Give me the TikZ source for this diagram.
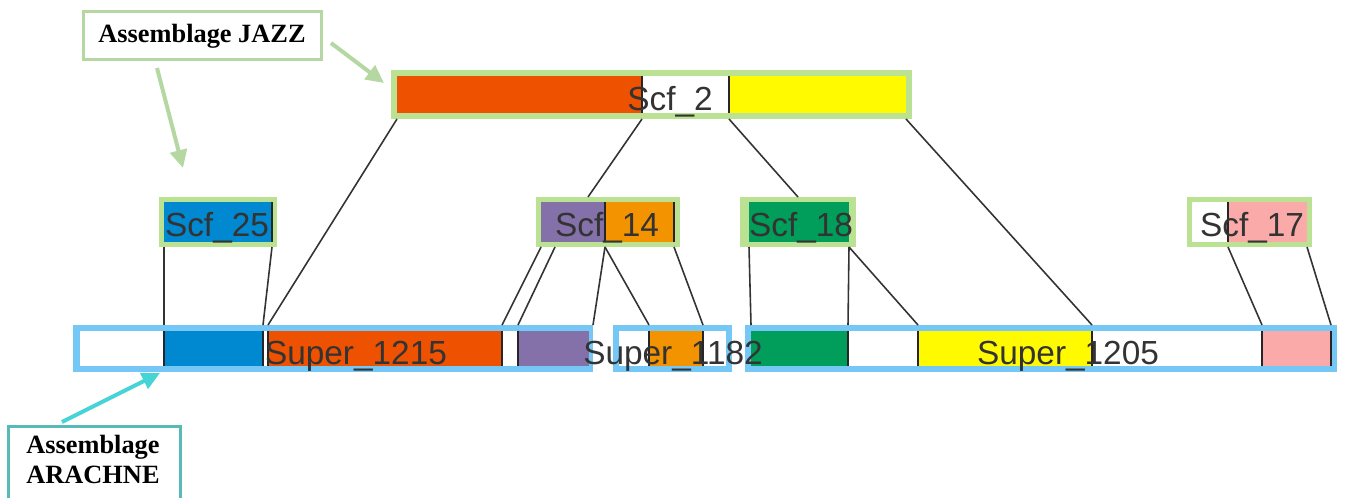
\documentclass[tikz,border=0pt]{standalone}
\usepackage{fontspec}
\usepackage{tikz}
\usetikzlibrary{fit,arrows.meta}
\usepackage{xcolor}

\newfontfamily\etiqfont{Liberation Sans}
\newfontfamily\rotfont{Liberation Serif}

% Colores
\definecolor{verdej}{RGB}{187,226,146}
\definecolor{verdel}{RGB}{181,216,163}
\definecolor{azulm}{RGB}{117,200,245}
\definecolor{turq}{RGB}{88,186,182}
\definecolor{cian}{RGB}{70,212,214}
\definecolor{naranja}{RGB}{238,82,0}
\definecolor{naranjab}{RGB}{244,147,0}
\definecolor{amarillo}{RGB}{255,250,0}
\definecolor{azul}{RGB}{0,136,208}
\definecolor{morado}{RGB}{132,113,170}
\definecolor{verde}{RGB}{0,158,90}
\definecolor{rosa}{RGB}{250,170,168}
\definecolor{oscuro}{RGB}{51,51,51}

\begin{document}
\begin{tikzpicture}[x=0.02cm, y=-0.02cm,
    marco/.style={inner sep=0pt, outer sep=0pt},
    seg/.style={inner sep=0pt, outer sep=0pt},
    sep/.style={draw=black!85, line width=1.1pt},
    enlace/.style={draw=oscuro, line width=0.9pt},
    etiq/.style={font={\etiqfont\fontsize{19}{22}\selectfont}, text=oscuro, anchor=base, inner sep=0pt},
    rot/.style={font={\rotfont\bfseries\fontsize{15}{17}\selectfont}, anchor=base, inner sep=0pt},
    caja/.style={inner sep=0pt, outer sep=0pt, line width=0.06cm, fill=white},
    flecha/.style={line width=0.08cm, -{Triangle[length=0.36cm, width=0.34cm]}}]

    % Limites de la figura
    \useasboundingbox (0,0) rectangle (1348,497);

    % Marcos: Scf (JAZZ) en verde, Super (ARACHNE) en azul
    \foreach \n/\xa/\ya/\xb/\yb/\c in {scf2/391/70/912/119/verdej,
        scf25/159/197/277/247/verdej, scf14/536/197/680/247/verdej,
        scf18/740/197/856/247/verdej, scf17/1187/197/1312/247/verdej,
        s15/73/325/593/372/azulm, s82/613/325/732/372/azulm,
        s05/745/325/1337/372/azulm}
        \node[marco, fill=\c, fit={(\xa,\ya) (\xb,\yb)}] (\n) {};

    % Segmentos de Scf_2
    \foreach \n/\a/\b/\c in {scf2a/397/642/naranja, scf2b/642/729/white, scf2c/729/906/amarillo}
        \node[seg, fill=\c, fit={(\a,76) (\b,113)}] (\n) {};

    % Segmentos de la fila media
    \foreach \n/\a/\b/\c in {scf25a/164/272/azul, scf14a/541/605/morado,
        scf14b/605/674/naranjab, scf18a/749/849/verde,
        scf17a/1192/1228/white, scf17b/1228/1307/rosa}
        \node[seg, fill=\c, fit={(\a,202) (\b,242)}] (\n) {};

    % Segmentos de los Super
    \foreach \n/\a/\b/\c in {s15a/80/164/white, s15b/164/263/azul, s15c/263/268/white,
        s15d/268/502/naranja, s15e/502/518/white, s15f/518/589/morado,
        s82a/619/649/white, s82b/649/703/naranjab, s82c/703/726/white,
        s05a/751/848/verde, s05b/848/918/white, s05c/918/1092/amarillo,
        s05d/1092/1262/white, s05e/1262/1331/rosa}
        \node[seg, fill=\c, fit={(\a,331) (\b,366)}] (\n) {};

    % Separadores negros
    \foreach \s in {scf2a,scf2b,scf25a,scf14a,scf14b,scf17a,
        s15a,s15b,s15c,s15d,s15e,s82a,s82b,s05a,s05b,s05c,s05d,s05e}
        \draw[sep] (\s.north east) -- (\s.south east);

    % Puntos libres
    \coordinate (j14) at (588,197);
    \coordinate (k14) at (555,247);

    % Correspondencias entre contigs
    \draw[enlace] (scf2a.south west |- scf2.south) -- (s15d.north west |- s15.north);
    \draw[enlace] (scf2a.south east |- scf2.south) -- (j14);
    \draw[enlace] (scf2b.south east |- scf2.south) -- (scf18.north);
    \draw[enlace] (scf2c.south east |- scf2.south) -- (s05c.north east |- s05.north);
    \draw[enlace] (scf25a.south west |- scf25.south) -- (s15b.north west |- s15.north);
    \draw[enlace] (scf25a.south east |- scf25.south) -- (s15c.north west |- s15.north);
    \draw[enlace] (scf14a.south west |- scf14.south) -- (s15e.north west |- s15.north);
    \draw[enlace] (k14) -- (s15f.north west |- s15.north);
    \draw[enlace] (scf14a.south east |- scf14.south) -- (s15.north east);
    \draw[enlace] (scf14b.south west |- scf14.south) -- (s82b.north west |- s82.north);
    \draw[enlace] (scf14b.south east |- scf14.south) -- (s82b.north east |- s82.north);
    \draw[enlace] (scf18a.south west |- scf18.south) -- (s05a.north west |- s05.north);
    \draw[enlace] (scf18a.south east |- scf18.south) -- (s05a.north east |- s05.north);
    \draw[enlace] (scf18a.south east |- scf18.south) -- (s05b.north east |- s05.north);
    \draw[enlace] (scf17b.south west |- scf17.south) -- (s05e.north west |- s05.north);
    \draw[enlace] (scf17b.south east |- scf17.south) -- (s05e.north east |- s05.north);

    % Nombres
    \node[etiq] (t2) at (670,110) {Scf\_2};
    \node[etiq] (t25) at (217,236) {Scf\_25};
    \node[etiq] (t14) at (607,236) {Scf\_14};
    \node[etiq] (t18) at (801,236) {Scf\_18};
    \node[etiq] (t17) at (1252,236) {Scf\_17};
    \node[etiq] (t15) at (356,364) {Super\_1215};
    \node[etiq] (t82) at (673,364) {Super\_1182};
    \node[etiq] (t05) at (1068,364) {Super\_1205};

    % Recuadros de las leyendas
    \node[caja, draw=verdel, fit={(83.5,11.5) (321.5,59.5)}] (jazz) {};
    \node[rot] (tjazz) at (202,42) {Assemblage JAZZ};
    \node[caja, draw=turq, fit={(8.5,426.5) (180.5,520)}] (arachne) {};
    \node[rot] (tar1) at (93,453) {Assemblage};
    \node[rot] (tar2) at (93,483) {ARACHNE};

    % Flechas de las leyendas
    \coordinate (ja1) at (331,43);
    \coordinate (ja2) at (384,83);
    \coordinate (jb1) at (157,68);
    \coordinate (jb2) at (183,168);
    \coordinate (ar1) at (62,422);
    \coordinate (ar2) at (160,373);
    \draw[flecha, draw=verdel, fill=verdel] (ja1) -- (ja2);
    \draw[flecha, draw=verdel, fill=verdel] (jb1) -- (jb2);
    \draw[flecha, draw=cian, fill=cian] (ar1) -- (ar2);

\end{tikzpicture}
\end{document}
